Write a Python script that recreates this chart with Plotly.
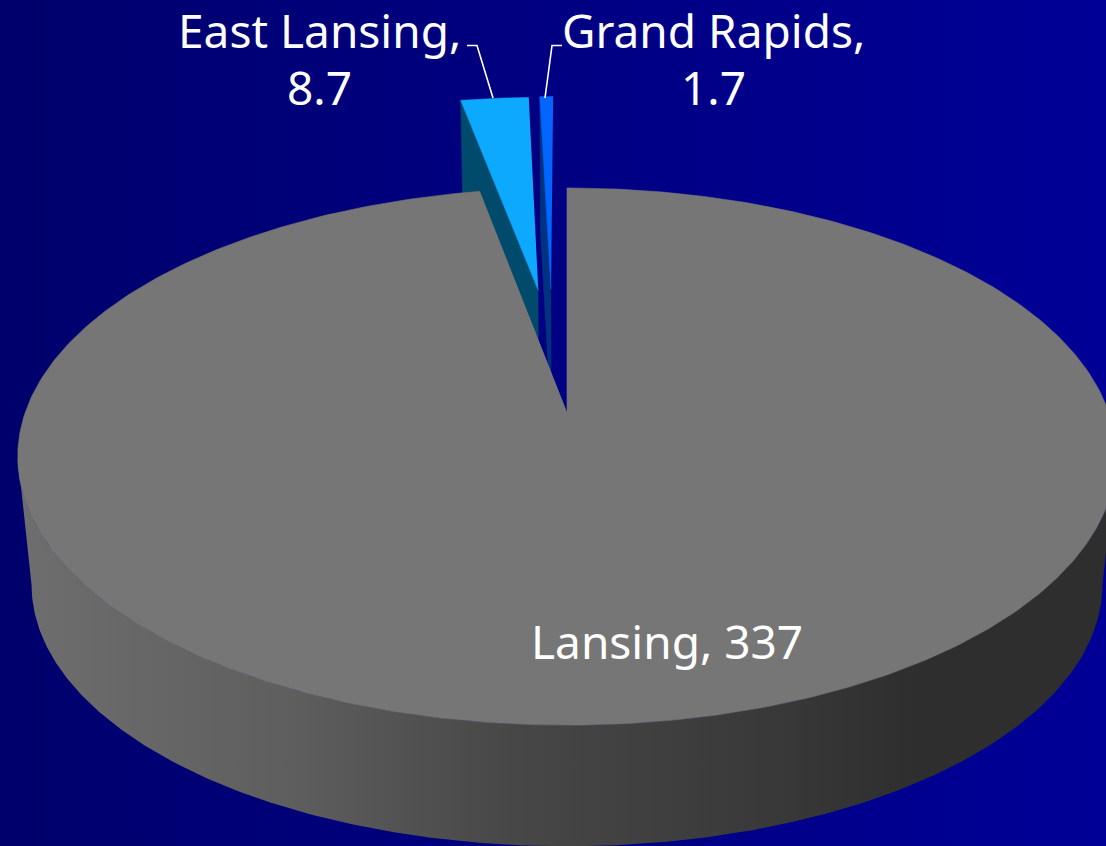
import numpy as np
import plotly.graph_objects as go

labels = ["Lansing", "East Lansing", "Grand Rapids"]
values = [337, 8.7, 1.7]
top_colors = ["#767676", "#0CA9FF", "#0066FF"]
left_wall = [None, "#004A6B", "#00337F"]
right_wall = [None, "#000072", "#00007C"]
explode = [(0.0, 0.0), (-0.0575, 0.505), (-0.0320, 0.51)]

W, H = 1106, 846
CX, CY = 567, 412
D, G, F = 6.03, 1575, 3266
K, CY2 = 0.975, 541


def project(X, Y, low=False):
    X, Y = np.asarray(X, float), np.asarray(Y, float)
    k, cy = (K, CY2) if low else (1, CY)
    return CX + k * F * X / (D + Y), cy - k * G * Y / (D + Y)


def rim(a0, a1, off=(0, 0), low=False, n=240):
    t = np.radians(np.linspace(a0, a1, n))
    return project(off[0] + np.sin(t), off[1] + np.cos(t), low)


def poly(x, y, color=None, gradient=None):
    if gradient:
        kw = dict(fillgradient=gradient, line=dict(width=0))
    else:
        kw = dict(fillcolor=color, line=dict(width=0.6, color=color))
    return go.Scatter(x=list(x), y=list(y), mode="lines", fill="toself",
                      hoverinfo="skip", showlegend=False, **kw)


fig = go.Figure()

# background
fig.add_trace(poly([0, W, W, 0], [0, 0, H, H], gradient=dict(
    type="horizontal",
    colorscale=[[0, "#00006C"], [0.5, "#000082"], [1, "#000096"]])))

angles = np.cumsum([0] + values) / sum(values) * 360

# exploded slices first, the large slice covers their inner part
for i in (1, 2):
    a0, a1 = angles[i], angles[i + 1]
    off = explode[i]
    ax, ay = project([off[0]], [off[1]])
    bx, by = project([off[0]], [off[1]], low=True)
    for ang, col in ((a1, right_wall[i]), (a0, left_wall[i])):
        tx, ty = rim(ang, ang, off, n=1)
        lx, ly = rim(ang, ang, off, low=True, n=1)
        fig.add_trace(poly([ax[0], tx[0], lx[0], bx[0]], [ay[0], ty[0], ly[0], by[0]], col))
    rx, ry = rim(a0, a1, off, n=30)
    fig.add_trace(poly(np.r_[ax, rx], np.r_[ay, ry], top_colors[i]))

# wall of the large slice
tang = np.degrees(np.arccos(-1 / D))
ux, uy = rim(tang, 360 - tang)
lx, ly = rim(tang, 360 - tang, low=True)
fig.add_trace(poly(np.r_[ux, lx[::-1]], np.r_[uy, ly[::-1]], gradient=dict(
    type="horizontal",
    colorscale=[[0, "#6E6E6E"], [0.25, "#5E5E5E"], [0.45, "#474747"],
                [0.7, "#383838"], [0.82, "#2E2E2E"], [1, "#2E2E2E"]])))

# top of the large slice
rx, ry = rim(angles[0], angles[1], n=500)
ax, ay = project([0], [0])
fig.add_trace(poly(np.r_[ax, rx], np.r_[ay, ry], top_colors[0]))

# leader lines
for lx_, ly_ in (([467, 477, 493], [45.5, 45.5, 98]), ([562, 552, 545], [45.5, 45.5, 98])):
    fig.add_trace(go.Scatter(x=lx_, y=ly_, mode="lines", hoverinfo="skip", showlegend=False,
                             line=dict(color="#FFFFFF", width=1.6)))

font = dict(family="Noto Sans", size=46, color="#FFFFFF")
for text, x, y in ((f"{labels[1]},", 319, 30), (f"{values[1]}", 319, 87),
                   (f"{labels[2]},", 713, 30), (f"{values[2]}", 713, 87),
                   (f"{labels[0]}, {values[0]}", 667, 641)):
    fig.add_annotation(x=x, y=y, text=text, showarrow=False, font=font,
                       xanchor="center", yanchor="middle", align="center")

fig.update_layout(width=W, height=H, margin=dict(l=0, r=0, t=0, b=0),
                  paper_bgcolor="#000082", plot_bgcolor="#000082",
                  xaxis=dict(range=[0, W], visible=False, fixedrange=True),
                  yaxis=dict(range=[H, 0], visible=False, fixedrange=True),
                  showlegend=False)

fig.write_html("out.html", config=dict(displayModeBar=False),
               post_script="document.body.style.margin='0';document.body.style.overflow='hidden';")
